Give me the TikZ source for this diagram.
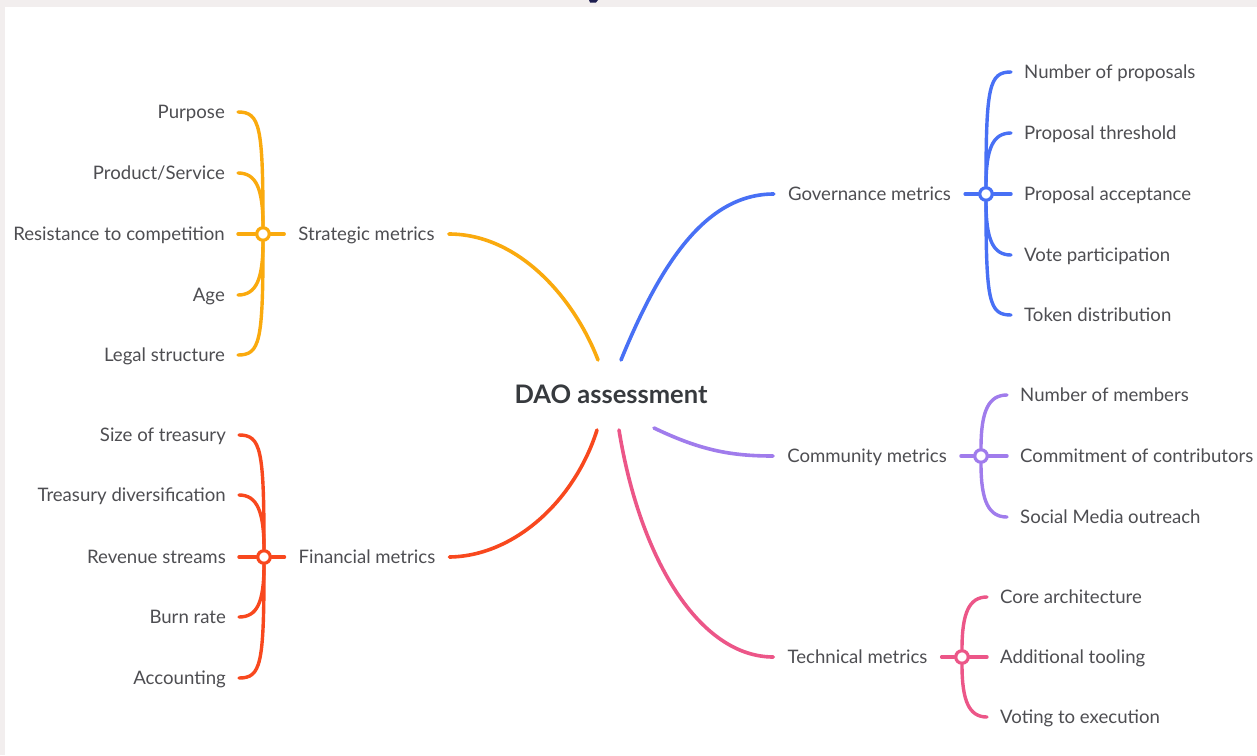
\documentclass[tikz,border=0pt]{standalone}
\usepackage{fontspec}
\setmainfont{Lato}
\usetikzlibrary{calc}
\definecolor{cOrange}{RGB}{250,170,14}
\definecolor{cBlue}{RGB}{72,112,245}
\definecolor{cPurple}{RGB}{160,124,236}
\definecolor{cRed}{RGB}{248,72,30}
\definecolor{cPink}{RGB}{236,86,136}
\definecolor{cText}{RGB}{78,78,82}
\definecolor{cRoot}{RGB}{55,58,62}
\definecolor{cFrame}{RGB}{242,238,238}
\definecolor{cTop}{RGB}{30,30,80}
\begin{document}
\begin{tikzpicture}[x=1pt,y=-1pt,
  txt/.style={inner ysep=0pt,text height=14pt,text depth=2pt,text=cText,font=\fontsize{18.6}{22}\selectfont},
  leafL/.style={txt,anchor=east,inner xsep=13pt},
  leafR/.style={txt,anchor=west,inner xsep=13pt},
  topic/.style={txt,inner xsep=14pt},
  rootnode/.style={inner sep=0pt,text height=19pt,text depth=3pt,text=cRoot,font=\fontsize{25.5}{30}\selectfont\bfseries},
  hub/.style={circle,draw,fill=white,line width=3.2pt,minimum size=12.5pt,inner sep=0pt},
  branch/.style={line width=3.4pt,line cap=round},
  mainline/.style={line width=3.6pt,line cap=round}]
\useasboundingbox (0,0) rectangle (1257,755);
\fill[cFrame] (0,0) rectangle (1257,755);
\fill[white] (5,7) rectangle (1257,755);
\fill[cTop] (589,0) -- (598,0) -- (596,2.5) -- (590,2.5) -- cycle;

% root
\node[rootnode] (root) at (611,395) {DAO assessment};
\coordinate (rS) at ($(root.center)+(-13,-35)$);
\coordinate (rG) at ($(root.center)+(10,-35)$);
\coordinate (rF) at ($(root.center)+(-14,35)$);
\coordinate (rT) at ($(root.center)+(8,35)$);
\coordinate (rC) at ($(root.center)+(43,33)$);

% Strategic
\node[topic] (sl) at (366.5,234) {Strategic metrics};
\node[hub,draw=cOrange] (sh) at (263,234) {};
\node[leafL] (s1) at (238,112) {Purpose};
\node[leafL] (s2) at (238,173) {Product/Service};
\node[leafL] (s3) at (238,234) {Resistance to competition};
\node[leafL] (s4) at (238,295) {Age};
\node[leafL] (s5) at (238,355) {Legal structure};
\begin{scope}[draw=cOrange]
\draw[mainline] (rS) .. controls (575,300) and (520,234) .. (sl.east);
\draw[branch] (sl.west) -- (sh.east);
\draw[branch] (sh.west) -- (s3.east);
\draw[branch] (sh.north) .. controls +(0,-100) and +(22,0) .. (s1.east);
\draw[branch] (sh.north) .. controls +(0,-38) and +(18,0) .. (s2.east);
\draw[branch] (sh.south) .. controls +(0,38) and +(18,0) .. (s4.east);
\draw[branch] (sh.south) .. controls +(0,100) and +(22,0) .. (s5.east);
\end{scope}

% Financial
\node[topic] (fl) at (367,557) {Financial metrics};
\node[hub,draw=cRed] (fh) at (264,557) {};
\node[leafL] (f1) at (239,435) {Size of treasury};
\node[leafL] (f2) at (239,495) {Treasury diversification};
\node[leafL] (f3) at (239,557) {Revenue streams};
\node[leafL] (f4) at (239,617) {Burn rate};
\node[leafL] (f5) at (239,678) {Accounting};
\begin{scope}[draw=cRed]
\draw[mainline] (rF) .. controls (575,500) and (515,556) .. (fl.east);
\draw[branch] (fl.west) -- (fh.east);
\draw[branch] (fh.west) -- (f3.east);
\draw[branch] (fh.north) .. controls +(0,-100) and +(22,0) .. (f1.east);
\draw[branch] (fh.north) .. controls +(0,-38) and +(18,0) .. (f2.east);
\draw[branch] (fh.south) .. controls +(0,38) and +(18,0) .. (f4.east);
\draw[branch] (fh.south) .. controls +(0,100) and +(22,0) .. (f5.east);
\end{scope}

% Governance
\node[topic] (gl) at (869.5,194) {Governance metrics};
\node[hub,draw=cBlue] (gh) at (986,194) {};
\node[leafR] (g1) at (1011,72) {Number of proposals};
\node[leafR] (g2) at (1011,133) {Proposal threshold};
\node[leafR] (g3) at (1011,194) {Proposal acceptance};
\node[leafR] (g4) at (1011,255) {Vote participation};
\node[leafR] (g5) at (1011,315) {Token distribution};
\begin{scope}[draw=cBlue]
\draw[mainline] (rG) .. controls (660,265) and (705,194) .. (gl.west);
\draw[branch] (gl.east) -- (gh.west);
\draw[branch] (gh.east) -- (g3.west);
\draw[branch] (gh.north) .. controls +(0,-100) and +(-22,0) .. (g1.west);
\draw[branch] (gh.north) .. controls +(0,-38) and +(-18,0) .. (g2.west);
\draw[branch] (gh.south) .. controls +(0,38) and +(-18,0) .. (g4.west);
\draw[branch] (gh.south) .. controls +(0,100) and +(-22,0) .. (g5.west);
\end{scope}

% Community
\node[topic] (cl) at (867,456) {Community metrics};
\node[hub,draw=cPurple] (ch) at (981,456) {};
\node[leafR] (c1) at (1007,395) {Number of members};
\node[leafR] (c2) at (1007,456) {Commitment of contributors};
\node[leafR] (c3) at (1007,517) {Social Media outreach};
\begin{scope}[draw=cPurple]
\draw[mainline] (rC) .. controls (700,450) and (730,456) .. (cl.west);
\draw[branch] (cl.east) -- (ch.west);
\draw[branch] (ch.east) -- (c2.west);
\draw[branch] (ch.north) .. controls +(0,-38) and +(-18,0) .. (c1.west);
\draw[branch] (ch.south) .. controls +(0,38) and +(-18,0) .. (c3.west);
\end{scope}

% Technical
\node[topic] (tl) at (857.5,657) {Technical metrics};
\node[hub,draw=cPink] (th) at (962,657) {};
\node[leafR] (t1) at (987,597) {Core architecture};
\node[leafR] (t2) at (987,657) {Additional tooling};
\node[leafR] (t3) at (987,717) {Voting to execution};
\begin{scope}[draw=cPink]
\draw[mainline] (rT) .. controls (640,560) and (700,657) .. (tl.west);
\draw[branch] (tl.east) -- (th.west);
\draw[branch] (th.east) -- (t2.west);
\draw[branch] (th.north) .. controls +(0,-36) and +(-18,0) .. (t1.west);
\draw[branch] (th.south) .. controls +(0,36) and +(-18,0) .. (t3.west);
\end{scope}
\end{tikzpicture}
\end{document}
